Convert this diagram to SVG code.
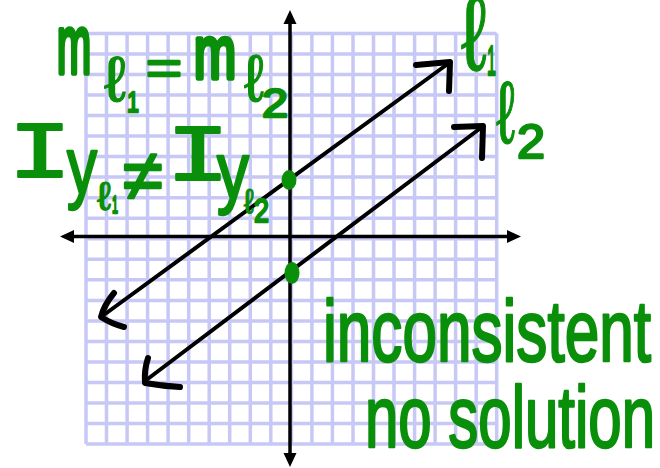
<svg xmlns="http://www.w3.org/2000/svg" width="660" height="468" viewBox="0 0 660 468">
<style>
.grid{stroke:#c8c8f6;stroke-width:3.5;fill:none}
.axis{stroke:#000;stroke-width:3.5;fill:none}
.tip{fill:#000}
.ln{stroke:#000;stroke-width:4;stroke-linecap:round;fill:none}
.head{stroke:#000;stroke-width:6;stroke-linecap:round;stroke-linejoin:round;fill:none}
.hand{font-family:"Liberation Sans",Arial,sans-serif;fill:#0a8f0a;stroke:#0a8f0a;stroke-width:2.5;stroke-linejoin:round}
.ell{stroke-width:1.2}
.mm{stroke-width:5.5}
.mono{font-family:"Liberation Mono","Courier New",monospace;stroke-width:2}
.dot{fill:#0a8f0a}
</style>
<rect width="660" height="468" fill="#fff"/>
<g id="grid">
<path class="grid" d="M86,33.4V444.1M106.5,33.4V444.1M127.1,33.4V444.1M147.6,33.4V444.1M168.1,33.4V444.1M188.7,33.4V444.1M209.2,33.4V444.1M229.7,33.4V444.1M250.3,33.4V444.1M270.8,33.4V444.1M291.4,33.4V444.1M311.9,33.4V444.1M332.4,33.4V444.1M353,33.4V444.1M373.5,33.4V444.1M394,33.4V444.1M414.6,33.4V444.1M435.1,33.4V444.1M455.6,33.4V444.1M476.2,33.4V444.1M496.7,33.4V444.1
M86,33.4H496.7M86,53.9H496.7M86,74.5H496.7M86,95H496.7M86,115.5H496.7M86,136.1H496.7M86,156.6H496.7M86,177.1H496.7M86,197.7H496.7M86,218.2H496.7M86,238.8H496.7M86,259.3H496.7M86,279.8H496.7M86,300.4H496.7M86,320.9H496.7M86,341.4H496.7M86,362H496.7M86,382.5H496.7M86,403H496.7M86,423.6H496.7M86,444.1H496.7"/>
</g>
<g id="axes">
<line class="axis" x1="70" y1="236.5" x2="512" y2="236.5"/>
<polygon class="tip" points="60,236.5 74,230 74,243"/>
<polygon class="tip" points="521,236.5 507,230 507,243"/>
<line class="axis" x1="290" y1="20" x2="290" y2="458"/>
<polygon class="tip" points="290,10 283.5,24 296.5,24"/>
<polygon class="tip" points="290,467 283.5,453 296.5,453"/>
</g>
<g id="connectors">
<g id="line-l1">
<line class="ln" x1="101" y1="317" x2="449" y2="63"/>
<path class="head" d="M416,65 L450,62 L449,91"/>
<path class="head" d="M114,293 Q104,305 101,317 Q112,324 124,327"/>
</g>
<g id="line-l2">
<line class="ln" x1="145" y1="381" x2="482" y2="127"/>
<path class="head" d="M454,127 L483,126 L482,158"/>
<path class="head" d="M148,358 Q144,370 145,383 Q162,386 180,387"/>
</g>
</g>
<g id="intercepts">
<ellipse class="dot" cx="289" cy="180" rx="7.5" ry="10"/>
<ellipse class="dot" cx="292" cy="273" rx="7.5" ry="11"/>
</g>
<g id="slopes">
<text class="hand mm" x="57" y="73" font-size="82" textLength="34" lengthAdjust="spacingAndGlyphs">m</text>
<text class="hand ell" x="104" y="101" font-size="64" textLength="22" lengthAdjust="spacingAndGlyphs">ℓ</text>
<text class="hand" x="127" y="112" font-size="30" textLength="12" lengthAdjust="spacingAndGlyphs">1</text>
<text class="hand" x="146" y="84" font-size="46" textLength="36" lengthAdjust="spacingAndGlyphs">=</text>
<text class="hand mm" x="194" y="78" font-size="74" textLength="42" lengthAdjust="spacingAndGlyphs">m</text>
<text class="hand ell" x="244" y="101" font-size="66" textLength="20" lengthAdjust="spacingAndGlyphs">ℓ</text>
<text class="hand" x="262" y="117" font-size="40" textLength="26" lengthAdjust="spacingAndGlyphs">2</text>
</g>
<g id="intercept-text">
<text class="hand mono" x="8" y="177" font-size="80" textLength="64" lengthAdjust="spacingAndGlyphs">I</text>
<text class="hand" x="67" y="193" font-size="80" textLength="30" lengthAdjust="spacingAndGlyphs">y</text>
<text class="hand ell" x="97" y="210" font-size="40" textLength="14" lengthAdjust="spacingAndGlyphs">ℓ</text>
<text class="hand" x="112" y="213" font-size="24" textLength="6" lengthAdjust="spacingAndGlyphs">1</text>
<text class="hand" x="123" y="200" font-size="72" textLength="40" lengthAdjust="spacingAndGlyphs">≠</text>
<text class="hand mono" x="166" y="180" font-size="80" textLength="64" lengthAdjust="spacingAndGlyphs">I</text>
<text class="hand" x="217" y="198" font-size="80" textLength="32" lengthAdjust="spacingAndGlyphs">y</text>
<text class="hand ell" x="244" y="213" font-size="34" textLength="10" lengthAdjust="spacingAndGlyphs">ℓ</text>
<text class="hand" x="254" y="222" font-size="34" textLength="15" lengthAdjust="spacingAndGlyphs">2</text>
</g>
<g id="label-l1">
<text class="hand ell" x="461" y="70" font-size="105" textLength="26" lengthAdjust="spacingAndGlyphs">ℓ</text>
<text class="hand" x="487" y="75" font-size="42" textLength="9" lengthAdjust="spacingAndGlyphs">1</text>
</g>
<g id="label-l2">
<text class="hand ell" x="496" y="143" font-size="88" textLength="19" lengthAdjust="spacingAndGlyphs">ℓ</text>
<text class="hand" x="517" y="158" font-size="49" textLength="28" lengthAdjust="spacingAndGlyphs">2</text>
</g>
<g id="conclusion">
<text class="hand" x="323" y="361" font-size="88" textLength="328" lengthAdjust="spacingAndGlyphs">inconsistent</text>
<text class="hand" x="365" y="447" font-size="88" textLength="290" lengthAdjust="spacingAndGlyphs">no solution</text>
</g>
</svg>
